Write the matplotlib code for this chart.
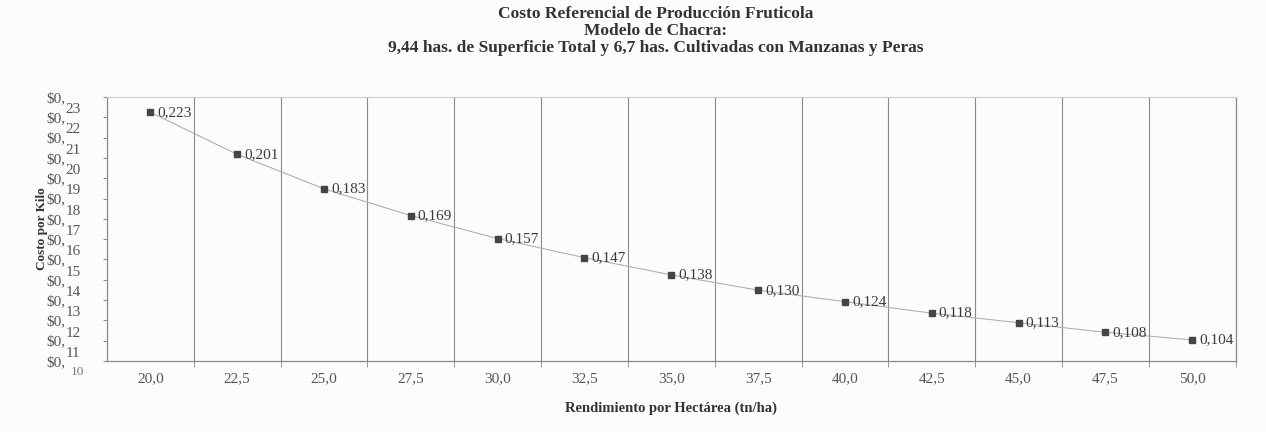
import numpy as np
import matplotlib
matplotlib.use('Agg')
import matplotlib.pyplot as plt

# Datos del grafico
rendimiento = ['20,0', '22,5', '25,0', '27,5', '30,0', '32,5', '35,0',
               '37,5', '40,0', '42,5', '45,0', '47,5', '50,0']
costo = [0.223, 0.201, 0.183, 0.169, 0.157, 0.147, 0.138,
         0.130, 0.124, 0.118, 0.113, 0.108, 0.104]
etiquetas = ['0,223', '0,201', '0,183', '0,169', '0,157', '0,147', '0,138',
             '0,130', '0,124', '0,118', '0,113', '0,108', '0,104']
# etiquetas del eje y tal como aparecen en el original
y_numeros = ['', '23', '22', '21', '20', '19', '18', '17', '16', '15',
             '14', '13', '12', '11']
titulo = ['Costo Referencial de Producción Fruticola',
          'Modelo de Chacra:',
          '9,44 has. de Superficie Total y 6,7 has. Cultivadas con Manzanas y Peras']

plt.rcParams['font.family'] = ['Liberation Serif', 'DejaVu Serif']

fig = plt.figure(figsize=(12.66, 4.32), dpi=100)
fig.patch.set_facecolor('#fdfcfa')
ax = fig.add_axes([0.0845, 0.1644, 0.8915, 0.6111])
ax.set_facecolor('#fdfcfa')

x = np.arange(len(rendimiento))
ax.plot(x, costo, '-', color='#b0b0b0', linewidth=0.8, zorder=2)
ax.plot(x, costo, 's', color='#454545', markersize=5, zorder=3)
for xi, yi, lab in zip(x, costo, etiquetas):
    ax.annotate(lab, (xi, yi), xytext=(5, 0), textcoords='offset points',
                ha='left', va='center', fontsize=11, color='#3a3a3a')

ymin, ymax = 0.093, 0.231
ax.set_xlim(-0.5, len(x) - 0.5)
ax.set_ylim(ymin, ymax)

# eje x: categorias, lineas verticales entre categorias
ax.set_xticks(x)
ax.set_xticklabels(rendimiento, fontsize=11, color='#555555')
ax.tick_params(axis='x', which='major', length=0, pad=8)
ax.set_xticks(np.arange(len(x)) + 0.5, minor=True)
ax.tick_params(axis='x', which='minor', length=4, color='#8a8a8a')
ax.grid(True, axis='x', which='minor', color='#8a8a8a', linewidth=0.8)

# eje y: "$0," en cada marca y el numero desplazado hacia arriba
yt = np.linspace(ymax, ymin, len(y_numeros))
ax.set_yticks(yt)
ax.set_yticklabels(['\\$0,'] * len(yt), fontsize=11, color='#555555')
ax.tick_params(axis='y', length=3, color='#909090', pad=27)
for yv, num in zip(yt, y_numeros):
    if num:
        ax.annotate(num, (0, yv), xycoords=('axes fraction', 'data'),
                    xytext=(-30, 5.5), textcoords='offset points',
                    ha='left', va='center', fontsize=11, color='#555555')
ax.annotate('10', (0, ymin), xycoords=('axes fraction', 'data'),
            xytext=(-26, -8), textcoords='offset points',
            ha='left', va='center', fontsize=9.5, color='#777777')

for s in ['left', 'bottom', 'right']:
    ax.spines[s].set_color('#8a8a8a')
    ax.spines[s].set_linewidth(0.9)
ax.spines['top'].set_color('#cccccc')
ax.spines['top'].set_linewidth(0.8)

ax.set_ylabel('Costo por Kilo', fontsize=9.5, fontweight='bold', color='#333333')
ax.yaxis.set_label_coords(-0.052, 0.5)
ax.set_xlabel('Rendimiento por Hectárea (tn/ha)', fontsize=10.5, fontweight='bold',
              color='#333333', labelpad=12)

for i, linea in enumerate(titulo):
    fig.text(0.518, 1 - (14 + 17 * i) / 432, linea, ha='center', va='center',
             fontsize=12.5, fontweight='bold', color='#333333')

fig.savefig('out.png', dpi=100, facecolor=fig.get_facecolor())
